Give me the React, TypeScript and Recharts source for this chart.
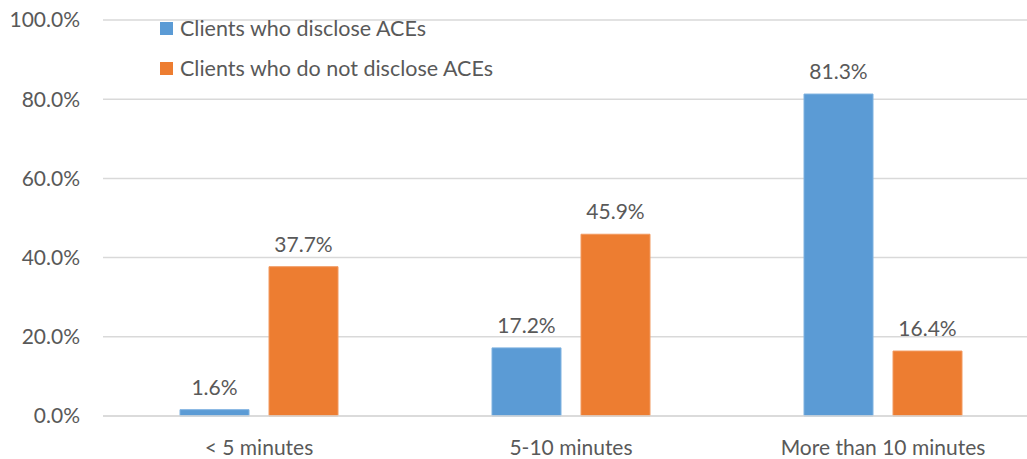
import React from 'react';
import { BarChart, Bar, XAxis, YAxis, CartesianGrid, LabelList } from 'recharts';

const categories = ['< 5 minutes', '5-10 minutes', 'More than 10 minutes'];
const disclose = [1.6, 17.2, 81.3];
const notDisclose = [37.7, 45.9, 16.4];
const yTicks = [0, 20, 40, 60, 80, 100];

const BLUE = '#5B9BD5';
const ORANGE = '#ED7D31';
const TEXT = '#595959';
const GRID = '#D9D9D9';
const FONT = 'Lato, "Open Sans", sans-serif';
const FS = 21;

const series = [
  { key: 'disclose', label: 'Clients who disclose ACEs', color: BLUE, edge: '#7FB2E0' },
  { key: 'notDisclose', label: 'Clients who do not disclose ACEs', color: ORANGE, edge: '#F29A60' },
];

const data = categories.map((name, i) => ({
  name,
  disclose: disclose[i],
  notDisclose: notDisclose[i],
}));

const pct = (v: number) => `${Number(v).toFixed(1)}%`;

// legend sits inside the plot, top-left, over the gridlines
const LegendBox = () => (
  <div
    style={{
      position: 'absolute',
      left: 160,
      top: 8,
      fontFamily: FONT,
      fontSize: 21.5,
      color: TEXT,
      lineHeight: '40px',
    }}
  >
    {series.map((s) => (
      <div key={s.key} style={{ display: 'flex', alignItems: 'center' }}>
        <span style={{ width: 13, height: 13, background: s.color, marginRight: 7, display: 'inline-block' }} />
        <span>{s.label}</span>
      </div>
    ))}
  </div>
);

export default function App() {
  return (
    <div style={{ position: 'absolute', left: 0, top: 0, width: 1027, height: 459, overflow: 'hidden', background: '#fff' }}>
      <BarChart
        width={1040}
        height={459}
        data={data}
        margin={{ top: 20, right: 1, left: 0, bottom: 0 }}
        barSize={69}
        barGap={20}
      >
        <CartesianGrid vertical={false} stroke={GRID} strokeWidth={1.5} />
        <XAxis
          dataKey="name"
          height={43}
          axisLine={{ stroke: GRID, strokeWidth: 1.5 }}
          tickLine={false}
          tickSize={0}
          tickMargin={24}
          tick={{ fill: TEXT, fontSize: FS, fontFamily: FONT }}
        />
        <YAxis
          width={103}
          domain={[0, 100]}
          ticks={yTicks}
          tickFormatter={pct}
          axisLine={false}
          tickLine={false}
          tickSize={0}
          tickMargin={23}
          tick={{ fill: TEXT, fontSize: FS, fontFamily: FONT }}
        />
        {series.map((s) => (
          <Bar key={s.key} dataKey={s.key} fill={s.color} stroke={s.edge} strokeWidth={1} isAnimationActive={false}>
            <LabelList dataKey={s.key} position="top" offset={15} formatter={pct} fill={TEXT} fontSize={FS} fontFamily={FONT} />
          </Bar>
        ))}
      </BarChart>
      <LegendBox />
    </div>
  );
}
